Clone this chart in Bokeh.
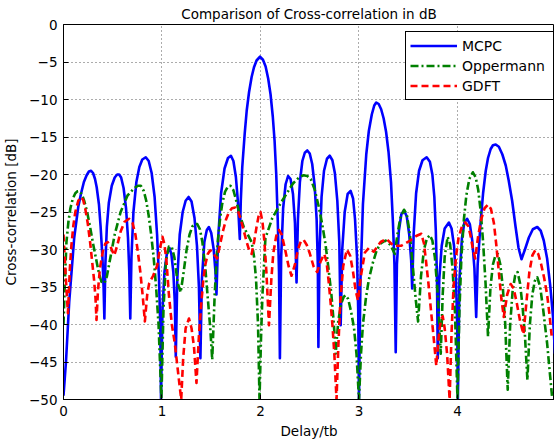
from bokeh.plotting import figure
from bokeh.models import Range1d, FixedTicker
from bokeh.embed import file_html
from bokeh.resources import INLINE

# Cross-correlation magnitude (dB) versus normalised delay
mcpc_x = [0.000, 0.025, 0.058, 0.109, 0.150, 0.177, 0.207, 0.235, 0.258, 0.280, 0.300,
          0.320, 0.337, 0.360, 0.377, 0.395, 0.407, 0.415,
          0.425, 0.440, 0.460, 0.490, 0.520, 0.545, 0.565, 0.585, 0.610, 0.635, 0.655,
          0.668, 0.678,
          0.690, 0.710, 0.740, 0.770, 0.800, 0.835, 0.865, 0.895, 0.925, 0.950, 0.970,
          0.982, 0.990,
          1.005, 1.025, 1.050, 1.075, 1.095, 1.115, 1.130, 1.140,
          1.155, 1.180, 1.210, 1.240, 1.270, 1.300, 1.330, 1.355, 1.375, 1.390,
          1.405, 1.430, 1.455, 1.476, 1.500, 1.525, 1.543, 1.553,
          1.570, 1.600, 1.635, 1.670, 1.700, 1.725, 1.750, 1.770, 1.790,
          1.800, 1.815, 1.840, 1.860, 1.884, 1.910, 1.934, 1.960, 1.995, 2.025, 2.052,
          2.078, 2.102, 2.125, 2.143, 2.160, 2.175, 2.188, 2.197,
          2.210, 2.230, 2.255, 2.280, 2.305, 2.330, 2.350, 2.366,
          2.380, 2.400, 2.425, 2.450, 2.475, 2.500, 2.525, 2.550, 2.570, 2.582, 2.588,
          2.600, 2.620, 2.645, 2.675, 2.703, 2.730, 2.755, 2.780, 2.800, 2.814,
          2.830, 2.855, 2.885, 2.915, 2.940, 2.960, 2.980, 2.992, 3.000,
          3.015, 3.040, 3.074, 3.100, 3.130, 3.155, 3.175, 3.200, 3.225, 3.250, 3.275,
          3.300, 3.325, 3.345, 3.360, 3.373,
          3.385, 3.405, 3.430, 3.458, 3.485, 3.510, 3.530, 3.540,
          3.555, 3.580, 3.610, 3.645, 3.687, 3.720, 3.745, 3.765, 3.780, 3.792, 3.800,
          3.815, 3.840, 3.870, 3.913, 3.940, 3.965, 3.985, 3.997, 4.004,
          4.020, 4.045, 4.070, 4.098, 4.125, 4.150, 4.172, 4.190,
          4.205, 4.236, 4.260, 4.287, 4.310, 4.337, 4.360, 4.388, 4.420, 4.455, 4.490,
          4.520, 4.555, 4.590, 4.620, 4.650, 4.685, 4.725, 4.765, 4.810, 4.845, 4.876,
          4.910, 4.943, 4.970, 4.990]
mcpc_db = [-49.5, -45.0, -37.0, -28.4, -24.3, -22.6, -21.0, -20.1, -19.6, -19.5, -19.8,
           -20.6, -21.7, -24.0, -27.0, -31.0, -35.0, -39.2,
           -32.0, -27.0, -23.8, -21.5, -20.4, -20.0, -20.0, -20.4, -21.8, -24.5, -28.5,
           -33.0, -39.2,
           -31.0, -25.0, -21.0, -19.0, -18.0, -17.7, -18.2, -19.8, -23.0, -28.0, -34.0,
           -40.0, -50.0,
           -38.0, -33.0, -30.5, -29.8, -30.6, -33.0, -37.0, -44.3,
           -34.0, -28.0, -25.0, -23.5, -23.0, -23.6, -25.8, -29.5, -35.0, -44.5,
           -34.0, -29.0, -27.4, -27.0, -27.8, -30.0, -33.0, -36.0,
           -28.5, -22.5, -19.2, -17.8, -17.5, -18.2, -20.3, -23.5, -28.6,
           -23.5, -19.0, -14.5, -11.5, -9.0, -7.0, -5.7, -4.8, -4.3, -4.7, -5.6,
           -7.2, -9.3, -12.3, -15.5, -20.0, -26.0, -33.0, -44.5,
           -31.0, -24.5, -21.3, -20.2, -20.6, -22.6, -26.5, -34.4,
           -26.0, -21.0, -18.2, -17.1, -16.8, -17.2, -18.6, -21.5, -26.0, -32.0, -43.0,
           -30.0, -23.0, -19.5, -17.9, -17.5, -18.1, -19.8, -23.5, -29.0, -40.1,
           -30.0, -25.0, -22.6, -22.2, -23.2, -26.0, -31.0, -38.0, -50.0,
           -34.0, -24.0, -17.3, -14.2, -12.0, -10.8, -10.4, -10.6, -11.3, -12.5, -14.3,
           -17.0, -21.0, -26.5, -32.0, -43.7,
           -32.0, -27.5, -25.3, -24.8, -25.6, -28.0, -31.5, -35.2,
           -28.0, -22.5, -19.5, -18.1, -17.7, -18.3, -20.0, -23.0, -27.5, -34.0, -44.5,
           -34.0, -29.5, -27.2, -26.4, -27.2, -29.5, -34.0, -40.0, -50.0,
           -34.0, -28.5, -26.4, -25.9, -26.6, -28.8, -32.5, -39.0,
           -32.0, -26.2, -22.5, -19.5, -17.8, -16.6, -16.1, -16.0, -16.3, -17.3, -18.8,
           -20.8, -23.5, -27.0, -29.8, -31.3, -30.0, -28.4, -27.3, -27.0, -27.5, -28.8,
           -31.2, -35.0, -39.0, -43.9]

opp_x = [0.000, 0.015, 0.030, 0.050, 0.070, 0.095, 0.120, 0.140, 0.160, 0.185, 0.210,
         0.240, 0.270, 0.300, 0.330, 0.360, 0.385, 0.415, 0.440, 0.470, 0.520, 0.580,
         0.650, 0.720, 0.755, 0.785, 0.815, 0.840, 0.865, 0.890, 0.915, 0.940, 0.965,
         0.994, 1.015, 1.040, 1.070, 1.100, 1.125, 1.160, 1.190, 1.220, 1.250, 1.280,
         1.310, 1.335, 1.358, 1.385, 1.410, 1.440, 1.465, 1.490, 1.510, 1.535, 1.560,
         1.585, 1.610, 1.640, 1.665, 1.695, 1.725, 1.750, 1.790, 1.830, 1.870, 1.910,
         1.935, 1.955, 1.975, 1.990, 2.005, 2.020, 2.050, 2.120, 2.220, 2.330, 2.390,
         2.437, 2.475, 2.510, 2.550, 2.590, 2.625, 2.660, 2.690, 2.720, 2.745, 2.763,
         2.790, 2.820, 2.845, 2.865, 2.890, 2.920, 2.950, 2.975, 3.000, 3.020, 3.040,
         3.070, 3.100, 3.140, 3.180, 3.220, 3.270, 3.320, 3.363, 3.390, 3.420, 3.457,
         3.485, 3.515, 3.545, 3.575, 3.600, 3.630, 3.660, 3.690, 3.720, 3.745, 3.770,
         3.800, 3.830, 3.850, 3.870, 3.900, 3.925, 3.950, 3.975, 4.000, 4.020, 4.040,
         4.065, 4.090, 4.120, 4.156, 4.185, 4.210, 4.235, 4.260, 4.285, 4.310, 4.335,
         4.360, 4.385, 4.410, 4.435, 4.460, 4.485, 4.510, 4.535, 4.560, 4.585, 4.610,
         4.635, 4.660, 4.685, 4.710, 4.735, 4.760, 4.785, 4.810, 4.840, 4.870, 4.910,
         4.960]
opp_db = [-40.0, -34.0, -29.0, -26.3, -24.5, -23.2, -22.5, -22.25, -22.2, -22.6, -23.5,
          -25.0, -27.0, -29.2, -31.2, -33.2, -34.3, -34.5, -33.6, -31.5, -28.0, -25.0,
          -22.8, -21.8, -21.5, -21.5, -22.2, -23.5, -25.5, -28.0, -31.0, -35.0, -40.0,
          -50.0, -38.0, -31.5, -29.6, -29.7, -31.0, -34.5, -35.7, -33.0, -30.0, -28.0,
          -26.9, -26.6, -26.6, -27.3, -29.0, -32.5, -36.5, -40.5, -44.7, -36.0, -30.0,
          -26.4, -24.0, -22.3, -21.7, -21.5, -22.1, -23.3, -25.4, -27.0, -28.0, -29.0,
          -31.0, -34.0, -40.0, -50.0, -42.0, -36.0, -28.5, -25.8, -23.5, -21.2, -20.4,
          -20.1, -20.2, -20.6, -22.0, -24.2, -26.5, -29.3, -32.5, -36.0, -40.0, -43.9,
          -39.5, -37.2, -36.3, -36.1, -36.6, -38.3, -40.5, -44.0, -50.0, -44.0, -40.0,
          -36.5, -34.0, -31.8, -30.1, -29.2, -28.8, -29.4, -30.6, -28.0, -25.8, -24.7,
          -25.3, -27.8, -32.0, -36.5, -39.6, -33.5, -30.0, -28.5, -28.1, -28.8, -31.0,
          -36.0, -43.9, -36.0, -31.0, -28.3, -29.3, -32.5, -38.5, -50.0, -38.0, -31.0,
          -26.0, -22.8, -20.6, -19.7, -20.4, -22.0, -24.8, -29.0, -34.5, -41.6, -35.0,
          -32.0, -30.8, -30.6, -32.0, -35.0, -40.0, -48.7, -40.0, -35.5, -33.5, -33.0,
          -34.5, -37.5, -41.5, -47.4, -40.0, -36.0, -34.2, -33.7, -35.0, -38.0, -42.5,
          -49.6]

gdft_x = [0.000, 0.020, 0.045, 0.065, 0.080, 0.100, 0.120, 0.150, 0.178, 0.200, 0.220,
          0.245, 0.270, 0.290, 0.310, 0.325, 0.335, 0.350, 0.370, 0.400, 0.425, 0.448,
          0.480, 0.515, 0.545, 0.580, 0.620, 0.667, 0.700, 0.730, 0.755, 0.780, 0.805,
          0.826, 0.850, 0.870, 0.910, 0.950, 0.980, 1.005, 1.025, 1.045, 1.070, 1.100,
          1.130, 1.160, 1.195, 1.215, 1.240, 1.274, 1.300, 1.325, 1.350, 1.375, 1.400,
          1.420, 1.440, 1.465, 1.490, 1.525, 1.560, 1.590, 1.620, 1.650, 1.680, 1.710,
          1.745, 1.775, 1.800, 1.830, 1.860, 1.885, 1.910, 1.935, 1.960, 1.980, 2.000,
          2.020, 2.040, 2.060, 2.086, 2.110, 2.130, 2.160, 2.187, 2.215, 2.250, 2.285,
          2.315, 2.350, 2.380, 2.410, 2.437, 2.470, 2.500, 2.540, 2.575, 2.610, 2.647,
          2.670, 2.690, 2.710, 2.730, 2.750, 2.772, 2.790, 2.810, 2.840, 2.877, 2.910,
          2.940, 2.965, 2.990, 3.020, 3.060, 3.100, 3.150, 3.220, 3.280, 3.350, 3.430,
          3.520, 3.580, 3.633, 3.660, 3.680, 3.705, 3.730, 3.760, 3.785, 3.810, 3.830,
          3.850, 3.870, 3.895, 3.920, 3.940, 3.960, 3.985, 4.010, 4.045, 4.080, 4.110,
          4.130, 4.155, 4.180, 4.210, 4.240, 4.275, 4.310, 4.340, 4.370, 4.395, 4.420,
          4.445, 4.470, 4.505, 4.540, 4.570, 4.600, 4.635, 4.670, 4.700, 4.730, 4.760,
          4.790, 4.820, 4.850, 4.880, 4.910, 4.935, 4.960]
gdft_db = [-28.0, -33.0, -38.5, -32.5, -29.5, -26.8, -25.0, -23.5, -23.0, -23.4, -24.5,
           -26.4, -29.0, -31.5, -34.0, -36.5, -39.4, -35.5, -32.5, -30.2, -29.2, -29.0,
           -29.7, -30.8, -29.5, -27.6, -26.3, -25.9, -26.4, -28.0, -30.3, -33.0, -36.3,
           -39.6, -36.0, -34.5, -33.5, -32.2, -29.8, -28.3, -29.3, -31.5, -36.0, -40.0,
           -42.5, -46.0, -50.0, -44.5, -40.5, -39.2, -40.5, -43.0, -47.8, -41.5, -37.0,
           -34.0, -32.0, -30.6, -30.1, -30.6, -31.2, -29.3, -27.5, -26.0, -25.0, -24.5,
           -24.4, -25.0, -26.0, -27.5, -29.0, -30.1, -30.6, -29.0, -27.0, -25.6, -25.0,
           -26.3, -29.0, -33.0, -40.1, -34.0, -30.5, -28.2, -27.4, -28.0, -30.0, -32.2,
           -33.5, -32.0, -30.0, -28.9, -28.7, -29.4, -30.5, -32.3, -33.0, -31.6, -30.6,
           -31.6, -34.0, -36.8, -40.0, -44.0, -50.0, -43.0, -37.0, -32.2, -30.0, -30.8,
           -33.0, -35.4, -36.8, -33.5, -30.4, -29.8, -30.3, -29.0, -28.6, -29.5, -29.5,
           -28.8, -28.2, -27.9, -29.2, -31.5, -34.5, -38.0, -42.0, -45.5, -41.5, -39.5,
           -38.9, -40.5, -44.0, -50.0, -41.0, -35.0, -31.0, -28.5, -26.9, -26.4, -26.9,
           -28.0, -29.8, -31.2, -28.2, -26.0, -24.5, -24.0, -24.6, -26.5, -29.5, -33.0,
           -36.5, -39.0, -36.0, -34.6, -35.2, -37.0, -39.5, -41.3, -37.0, -33.0, -30.8,
           -30.1, -30.6, -32.0, -33.8, -36.0, -38.8, -42.0]

x_ticks = [0, 1, 2, 3, 4, 5]
y_ticks = [-50, -45, -40, -35, -30, -25, -20, -15, -10, -5, 0]

FONT = "DejaVu Sans"
FS = "13.5px"

p = figure(width=554, height=445, output_backend="svg", toolbar_location=None,
           x_range=Range1d(0, 4.985), y_range=Range1d(-50, 0),
           min_border_left=61, min_border_right=0, min_border_top=24,
           min_border_bottom=46, title="Comparison of Cross-correlation in dB",
           background_fill_color="white", border_fill_color="white")

p.title.align = "center"
p.title.vertical_align = "top"
p.title.text_font = FONT
p.title.text_font_size = FS
p.title.text_font_style = "normal"
p.title.text_color = "black"
p.title.standoff = 2

p.outline_line_color = "black"
p.outline_line_width = 1
p.outline_line_alpha = 1

for ax, ticks in ((p.xaxis[0], x_ticks), (p.yaxis[0], y_ticks)):
    ax.ticker = FixedTicker(ticks=ticks)
    ax.axis_line_color = "black"
    ax.major_tick_line_color = "black"
    ax.major_tick_in = 5
    ax.major_tick_out = 0
    ax.minor_tick_line_color = None
    ax.major_label_text_font = FONT
    ax.major_label_text_font_size = FS
    ax.major_label_text_color = "black"
    ax.axis_label_text_font = FONT
    ax.axis_label_text_font_size = FS
    ax.axis_label_text_font_style = "normal"
    ax.axis_label_text_color = "black"
    ax.major_label_standoff = 6

p.xaxis.axis_label = "Delay/tb"
p.yaxis.axis_label = "Cross-correlation [dB]"
p.xaxis.axis_label_standoff = 4
p.yaxis.axis_label_standoff = 7

for g, ticks in ((p.xgrid[0], x_ticks), (p.ygrid[0], y_ticks)):
    g.ticker = FixedTicker(ticks=ticks)
    g.grid_line_color = "black"
    g.grid_line_alpha = 0.65
    g.grid_line_dash = "1 3"
    g.grid_line_width = 1

p.line(mcpc_x, mcpc_db, color="#0000ff", line_width=2.6, line_join="round",
       legend_label="MCPC")
p.line(opp_x, opp_db, color="#008000", line_width=2.6, line_join="round",
       line_dash="8 3 2 3", legend_label="Oppermann")
p.line(gdft_x, gdft_db, color="#ff0000", line_width=2.6, line_join="round",
       line_dash="7 4", legend_label="GDFT")

lg = p.legend[0]
lg.location = (342, 299)
lg.padding = 4
lg.spacing = 1
lg.margin = 0
lg.glyph_width = 47
lg.glyph_height = 19
lg.label_height = 19
lg.label_width = 87
lg.label_standoff = 5
lg.label_text_font = FONT
lg.label_text_font_size = "14px"
lg.label_text_color = "black"
lg.border_line_color = "black"
lg.border_line_width = 1
lg.border_line_alpha = 1
lg.background_fill_color = "white"
lg.background_fill_alpha = 1

open("out.html", "w").write(file_html(p, INLINE))
